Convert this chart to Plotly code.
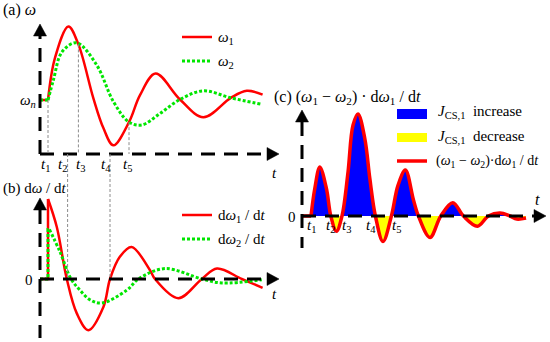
import plotly.graph_objects as go

W, H = 550, 342

# ---------------- data (arbitrary units) ----------------
# (a) rotor speeds omega1 / omega2 versus time
t_omega1 = [0, 0.4, 0.75, 1.42, 1.92, 2.67, 3.17, 3.67, 4.45, 5.0, 5.78, 7.0, 8.17, 9.54, 10.34, 11.13]
omega1 = [1.0, 1.0, 1.78, 2.36, 2.03, 1.03, 0.48, 0.16, 0.59, 1.09, 1.49, 1.01, 0.68, 1.04, 1.17, 1.10]
t_omega2 = [0, 0.4, 0.67, 1.1, 1.83, 2.83, 3.67, 4.45, 5.1, 6.0, 7.0, 8.17, 9.54, 11.09]
omega2 = [1.0, 1.0, 1.37, 1.89, 2.06, 1.65, 0.97, 0.59, 0.54, 0.75, 1.01, 1.17, 1.04, 0.92]

# (b) derivatives d(omega1)/dt and d(omega2)/dt
t_domega1 = [0, 0.4, 0.4, 0.84, 1.34, 1.84, 2.42, 3.17, 3.5, 4.0, 4.58, 5.5, 5.75, 6.92, 8.09, 8.85, 10.09, 11.13]
domega1 = [0, 0, 1.0, 0.65, 0, -0.43, -0.64, -0.35, 0, 0.28, 0.40, 0.11, 0, -0.24, 0, 0.13, 0, -0.11]
t_domega2 = [0, 0.4, 0.4, 0.47, 1.0, 1.55, 2.0, 2.5, 3.09, 4.34, 4.92, 6.25, 8.09, 9.1, 11.09]
domega2 = [0, 0, 0.62, 0.62, 0.34, 0, -0.14, -0.26, -0.30, -0.14, 0, 0.13, 0, -0.05, -0.01]

# (c) (omega1 - omega2) * d(omega1)/dt
t_c = [0, 0.45, 0.64, 0.89, 1.22, 1.44, 1.72, 2.0, 2.3, 2.55, 2.8, 3.14, 3.39, 3.67, 4.05, 4.47,
       4.8, 5.17, 5.57, 5.82, 6.4, 6.94, 7.54, 8.07, 8.77, 9.32, 9.9, 10.4, 10.74, 11.2]
power = [0, 0, 0.27, 0.48, 0.27, 0, -0.15, 0, 0.43, 0.89, 1.0, 0.76, 0.37, 0, -0.25, 0,
         0.30, 0.45, 0.16, 0, -0.21, 0, 0.13, 0, -0.10, 0, 0.03, 0, -0.03, -0.02]

# characteristic instants t1..t5 in panel (a)/(b)
t_marks = [0.4, 1.38, 1.92, 3.5, 4.45]
t_mark_names = ["1", "2", "3", "4", "5"]

# ---------------- styling ----------------
RED = "#FF0000"
GREEN = "#00E600"
BLUE = "#0000FF"
YELLOW = "#FFFF00"
FONT = "Liberation Serif, Times New Roman, DejaVu Serif, serif"
FS = 15
AXDASH = "14px,9px"


def PX(x):
    return x / W


def PY(y):
    return 1 - y / H


fig = go.Figure()

# ---- panel (a) ----
fig.add_trace(go.Scatter(x=t_omega1[:2], y=omega1[:2], mode="lines",
                         line=dict(color=RED, width=2.5), xaxis="x", yaxis="y"))
fig.add_trace(go.Scatter(x=t_omega1[1:], y=omega1[1:], mode="lines",
                         line=dict(color=RED, width=2.5, shape="spline"), xaxis="x", yaxis="y"))
fig.add_trace(go.Scatter(x=t_omega2[:2], y=omega2[:2], mode="lines",
                         line=dict(color=GREEN, width=3, dash="3px,2px"), xaxis="x", yaxis="y"))
fig.add_trace(go.Scatter(x=t_omega2[1:], y=omega2[1:], mode="lines",
                         line=dict(color=GREEN, width=3, dash="3px,2px", shape="spline"),
                         xaxis="x", yaxis="y"))

# ---- panel (b) ----
fig.add_trace(go.Scatter(x=t_domega1[:3], y=domega1[:3], mode="lines",
                         line=dict(color=RED, width=2.5), xaxis="x", yaxis="y2"))
fig.add_trace(go.Scatter(x=t_domega1[2:], y=domega1[2:], mode="lines",
                         line=dict(color=RED, width=2.5, shape="spline"), xaxis="x", yaxis="y2"))
fig.add_trace(go.Scatter(x=t_domega2[:4], y=domega2[:4], mode="lines",
                         line=dict(color=GREEN, width=3, dash="3px,2px"), xaxis="x", yaxis="y2"))
fig.add_trace(go.Scatter(x=t_domega2[3:], y=domega2[3:], mode="lines",
                         line=dict(color=GREEN, width=3, dash="3px,2px", shape="spline"),
                         xaxis="x", yaxis="y2"))

# ---- panel (c): filled lobes split at the zero crossings ----
lobes = []
start = 0
for i in range(1, len(t_c)):
    if power[i] == 0:
        lobes.append((t_c[start:i + 1], power[start:i + 1]))
        start = i
if start < len(t_c) - 1:
    lobes.append((t_c[start:], power[start:]))
for xs, ys in lobes:
    peak = max(ys, key=abs)
    if peak == 0:
        continue
    fig.add_trace(go.Scatter(x=xs, y=ys, mode="lines", fill="tozeroy",
                             fillcolor=BLUE if peak > 0 else YELLOW,
                             line=dict(width=0, shape="spline"), xaxis="x3", yaxis="y3"))
fig.add_trace(go.Scatter(x=t_c[:2], y=power[:2], mode="lines",
                         line=dict(color=RED, width=3.5), xaxis="x3", yaxis="y3"))
fig.add_trace(go.Scatter(x=t_c[1:], y=power[1:], mode="lines",
                         line=dict(color=RED, width=3.5, shape="spline"), xaxis="x3", yaxis="y3"))

shapes = []


def axline(x0, y0, x1, y1):
    shapes.append(dict(type="line", xref="paper", yref="paper",
                       x0=PX(x0), y0=PY(y0), x1=PX(x1), y1=PY(y1),
                       line=dict(color="black", width=3, dash=AXDASH)))


def tri(points):
    path = "M " + " L ".join(f"{PX(x)},{PY(y)}" for x, y in points) + " Z"
    shapes.append(dict(type="path", xref="paper", yref="paper", path=path,
                       fillcolor="black", line=dict(color="black", width=0.5)))


def gray(x0, y0, y1):
    shapes.append(dict(type="line", xref="paper", yref="paper",
                       x0=PX(x0), x1=PX(x0), y0=PY(y0), y1=PY(y1),
                       line=dict(color="#8c8c8c", width=1, dash="3px,2px")))


# axes of (a)
axline(40, 154, 40, 36)
axline(40, 154, 268, 154)
tri([(33.5, 36), (46.5, 36), (40, 24)])
tri([(267, 147.5), (267, 160.5), (279, 154)])
# axes of (b)
axline(40, 210, 40, 338)
axline(40, 279, 268, 279)
tri([(33.5, 210), (46.5, 210), (40, 198)])
tri([(267, 272.5), (267, 285.5), (279, 279)])
# axes of (c)
axline(302, 122, 302, 248)
axline(302, 216, 534, 216)
tri([(295.5, 122), (308.5, 122), (302, 110)])
tri([(534, 209.5), (534, 222.5), (546, 216)])


# gray marker lines t1..t5 (pixel mapping of panel a/b: x = 40 + 20 t)
def tpx(t):
    return 40 + 20 * t


def apy(w):
    return 154 - 54 * w


gray(tpx(t_marks[0]), apy(omega1[1]), 154)
gray(tpx(t_marks[1]), 154, 279)
gray(tpx(t_marks[2]), apy(omega1[t_omega1.index(1.92)]), 154)
gray(tpx(t_marks[3]), 154, 279)
gray(tpx(t_marks[4]), apy(omega1[t_omega1.index(4.45)]), 154)


# legend symbols
def legline(y, color, width, dash=None):
    ln = dict(color=color, width=width)
    if dash:
        ln["dash"] = dash
    shapes.append(dict(type="line", xref="paper", yref="paper",
                       x0=PX(182), x1=PX(212), y0=PY(y), y1=PY(y), line=ln))


legline(37, RED, 2.5)
legline(61, GREEN, 3, "3px,2px")
legline(215, RED, 2.5)
legline(239, GREEN, 3, "3px,2px")
shapes.append(dict(type="rect", xref="paper", yref="paper", x0=PX(397), x1=PX(427),
                   y0=PY(109), y1=PY(119), fillcolor=BLUE, line=dict(width=0)))
shapes.append(dict(type="rect", xref="paper", yref="paper", x0=PX(397), x1=PX(427),
                   y0=PY(133), y1=PY(142), fillcolor=YELLOW, line=dict(width=0)))
shapes.append(dict(type="line", xref="paper", yref="paper", x0=PX(397), x1=PX(427),
                   y0=PY(161), y1=PY(161), line=dict(color=RED, width=3.5)))

annotations = []


def txt(x, y, s, anchor="left", size=FS):
    annotations.append(dict(x=PX(x), y=PY(y), xref="paper", yref="paper", text=s,
                            showarrow=False, xanchor=anchor, yanchor="middle",
                            font=dict(family=FONT, size=size, color="black")))


W1 = "<i>ω</i><sub>1</sub>"
W2 = "<i>ω</i><sub>2</sub>"
POW = f"({W1} − {W2})·d{W1} / d<i>t</i>"
POW_TITLE = f"({W1} − {W2}) · d{W1} / d<i>t</i>"

txt(1, 10, "(a) <i>ω</i>", size=16)
txt(216, 38, W1)
txt(216, 62, W2)
txt(38, 101, "<i>ω</i><sub><i>n</i></sub>", "right")
txt(274, 173, "<i>t</i>", "center")
for name, xp in zip(t_mark_names, [45, 62, 80, 106, 127]):
    txt(xp, 165, f"<i>t</i><sub>{name}</sub>", "center")

txt(1, 188, "(b) d<i>ω</i> / d<i>t</i>")
txt(216, 216, f"d{W1} / d<i>t</i>")
txt(216, 240, f"d{W2} / d<i>t</i>")
txt(35, 280, "0", "right")
txt(274, 294, "<i>t</i>", "center")

txt(272, 98, "(c) " + POW_TITLE, size=16)
txt(436, 112, "<i>J</i><sub>CS,1</sub>  increase")
txt(436, 137, "<i>J</i><sub>CS,1</sub>  decrease")
txt(434, 162, POW, size=14)
txt(298, 217, "0", "right")
txt(537, 199, "<i>t</i>", "center", size=16)
for name, xp in zip(t_mark_names, [311, 330, 346, 371, 396]):
    txt(xp, 226, f"<i>t</i><sub>{name}</sub>", "center")

ax_common = dict(visible=False, showgrid=False, zeroline=False, fixedrange=True)
fig.update_layout(
    width=W, height=H, autosize=False,
    margin=dict(l=0, r=0, t=0, b=0),
    paper_bgcolor="white", plot_bgcolor="rgba(0,0,0,0)",
    showlegend=False,
    font=dict(family=FONT, size=FS, color="black"),
    xaxis=dict(domain=[0, 1], range=[-2, 25.5], anchor="y", **ax_common),
    yaxis=dict(domain=[0, 1], range=[(154 - 342) / 54, 154 / 54], anchor="x", **ax_common),
    yaxis2=dict(domain=[0, 1], range=[(279 - 342) / 80, 279 / 80], anchor="x",
                overlaying="y", **ax_common),
    xaxis3=dict(domain=[0, 1], range=[-15.1, 12.4], anchor="y3", **ax_common),
    yaxis3=dict(domain=[0, 1], range=[(216 - 342) / 102, 216 / 102], anchor="x3", **ax_common),
    shapes=shapes,
    annotations=annotations,
)

fig.write_html("out.html",
               config={"displayModeBar": False, "staticPlot": True},
               post_script="document.body.style.margin='0px';document.body.style.padding='0px';")
